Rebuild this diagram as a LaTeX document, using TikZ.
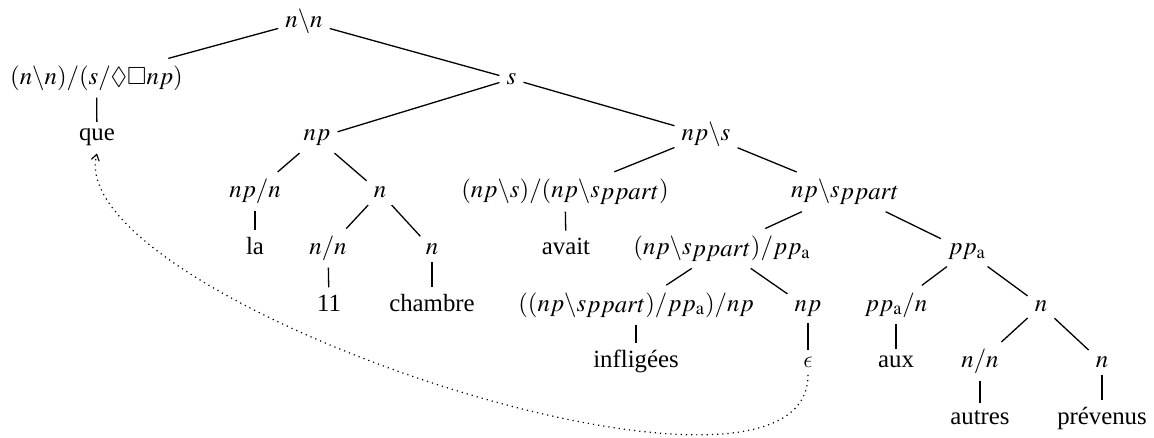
\documentclass[tikz,border=0pt]{standalone}
\usepackage{mathptmx}
\usepackage{amssymb}
\usepackage[no-math]{fontspec}
\setmainfont{Liberation Serif}
\usetikzlibrary{arrows.meta}
\newcommand\bsl{\backslash}
\newcommand\spp{s\raisebox{-0.9pt}{$ppart$}}
\newcommand\ppa{pp_{\mathrm{a}}}
\newcommand\lunateps{{\usefont{OML}{cmm}{m}{it}\char"0F}}
\begin{document}
\begin{tikzpicture}[x=0.5pt,y=-0.5pt,
  lbl/.style={anchor=base,inner sep=3.4pt,font=\fontsize{12.4}{15}\selectfont},
  edge/.style={line width=0.65pt},
  trace/.style={dotted,line width=0.6pt,-{Straight Barb[length=3pt,width=4pt]}}]
\useasboundingbox (0,0) rectangle (1154,438);
% row 0
\node[lbl] (A) at (304,27.5) {$n\bsl n$};
% row 1
\node[lbl] (B) at (96.5,84.2) {$(n\bsl n)/(s/\Diamond\Box np)$};
\node[lbl] (S) at (511.5,84.2) {$s$};
% row 2
\node[lbl] (que) at (97,140.9) {que};
\node[lbl] (NP) at (317,140.9) {$np$};
\node[lbl] (VP) at (706,140.9) {$np\bsl s$};
% row 3
\node[lbl] (D) at (255,197.6) {$np/n$};
\node[lbl] (N1) at (380,197.6) {$n$};
\node[lbl] (AUX) at (565,197.6) {$(np\bsl s)/(np\bsl \spp)$};
\node[lbl] (PP) at (845,197.6) {$np\bsl \spp$};
% row 4
\node[lbl] (la) at (255,254.3) {la};
\node[lbl] (ADJ) at (328,254.3) {$n/n$};
\node[lbl] (N2) at (432,254.3) {$n$};
\node[lbl] (avait) at (566,254.3) {avait};
\node[lbl] (TV) at (722,254.3) {$(np\bsl \spp)/\ppa$};
\node[lbl] (PPA) at (967,254.3) {$\ppa$};
% row 5
\node[lbl] (onze) at (329,311) {11};
\node[lbl] (chambre) at (432,311) {chambre};
\node[lbl] (INF) at (636,311) {$((np\bsl \spp)/\ppa)/np$};
\node[lbl] (NPe) at (808,311) {$np$};
\node[lbl] (P) at (896,311) {$\ppa/n$};
\node[lbl] (N3) at (1041,311) {$n$};
% row 6
\node[lbl] (infl) at (636,367.7) {infligées};
\node[lbl] (eps) at (808,367.7) {\lunateps};
\node[lbl] (aux) at (896,367.7) {aux};
\node[lbl] (ADJ2) at (980,367.7) {$n/n$};
\node[lbl] (N4) at (1102,367.7) {$n$};
% row 7
\node[lbl] (autres) at (980,424.4) {autres};
\node[lbl] (prev) at (1102,424.4) {prévenus};
% edges
\draw[edge] (A) -- (B);
\draw[edge] (A) -- (S);
\draw[edge] (B) -- (que);
\draw[edge] (S) -- (NP);
\draw[edge] (S) -- (VP);
\draw[edge] (NP) -- (D);
\draw[edge] (NP) -- (N1);
\draw[edge] (D) -- (la);
\draw[edge] (N1) -- (ADJ);
\draw[edge] (N1) -- (N2);
\draw[edge] (ADJ) -- (onze);
\draw[edge] (N2) -- (chambre);
\draw[edge] (VP) -- (AUX);
\draw[edge] (VP) -- (PP);
\draw[edge] (AUX) -- (avait);
\draw[edge] (PP) -- (TV);
\draw[edge] (PP) -- (PPA);
\draw[edge] (TV) -- (INF);
\draw[edge] (TV) -- (NPe);
\draw[edge] (INF) -- (infl);
\draw[edge] (NPe) -- (eps);
\draw[edge] (PPA) -- (P);
\draw[edge] (PPA) -- (N3);
\draw[edge] (P) -- (aux);
\draw[edge] (N3) -- (ADJ2);
\draw[edge] (N3) -- (N4);
\draw[edge] (ADJ2) -- (autres);
\draw[edge] (N4) -- (prev);
% trace
\draw[trace] (eps.south) .. controls (808,550) and (60,300) .. (que.south);
\end{tikzpicture}
\end{document}
